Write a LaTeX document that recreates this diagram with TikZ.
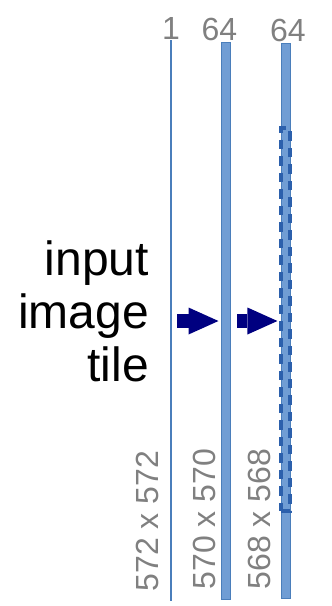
\documentclass[tikz,border=0pt]{standalone}
\usepackage{fontspec}
\setmainfont{Liberation Sans}
\usetikzlibrary{arrows.meta,positioning}
\definecolor{barfill}{RGB}{112,157,212}
\definecolor{barline}{RGB}{74,126,187}
\definecolor{cropblue}{RGB}{44,96,172}
\definecolor{sizegray}{RGB}{128,128,128}
\definecolor{arrowblue}{RGB}{0,0,128}

\begin{document}
\begin{tikzpicture}[x=1pt,y=-1pt,
    bar/.style={rectangle,draw=barline,fill=barfill,line width=1pt,inner sep=0pt,minimum width=9pt},
    thin bar/.style={rectangle,fill=barline,inner sep=0pt,minimum width=2pt},
    crop box/.style={rectangle,draw=cropblue,line width=4.5pt,dash pattern=on 9.5pt off 7pt,inner sep=0pt,minimum width=9pt},
    size/.style={text=sizegray,font=\fontsize{32}{36}\selectfont,inner sep=0pt},
    dims/.style={size,rotate=90},
    txt/.style={font=\fontsize{48}{53}\selectfont,inner sep=0pt,anchor=base east},
    big arrow/.style={draw=arrowblue,line width=14.5pt,-{Triangle[length=30pt,width=27pt,line width=0pt]}}]
                        \useasboundingbox (0,0) rectangle (332,606);

                        \node[thin bar,minimum height=561pt] (1) at (171,320.5) {};
                        \node[bar,minimum height=557pt] (2) at (225.5,320.5) {};
                        \node[bar,minimum height=555pt] (3) at (285.5,320.5) {};
                        \node[crop box,minimum height=383pt] (4) at (285.7,319.5) {};

                        \node[size] (c1) [above=0pt of 1] {1};
                        \node[size] (c2) [above=0pt of 2,xshift=-6pt] {64};
                        \node[size] (c3) [above=0pt of 3,xshift=2.5pt] {64};

                        \node[dims] (d1) at (147.5,521) {572 x 572};
                        \node[dims] (d2) at (204,519) {570 x 570};
                        \node[dims] (d3) at (259,519) {568 x 568};

                        \node[txt] (t1) at (149,275) {input};
                        \node[txt] (t2) at (149,328) {image};
                        \node[txt] (t3) at (149,381) {tile};

                        \coordinate (a) at (0,321);
                        \draw[big arrow] ([xshift=5pt]1.east |- a) -- ([xshift=-2pt]2.west |- a);
                        \draw[big arrow] ([xshift=6.5pt]2.east |- a) -- ([xshift=-1.5pt]4.west |- a);
        \end{tikzpicture}
\end{document}
